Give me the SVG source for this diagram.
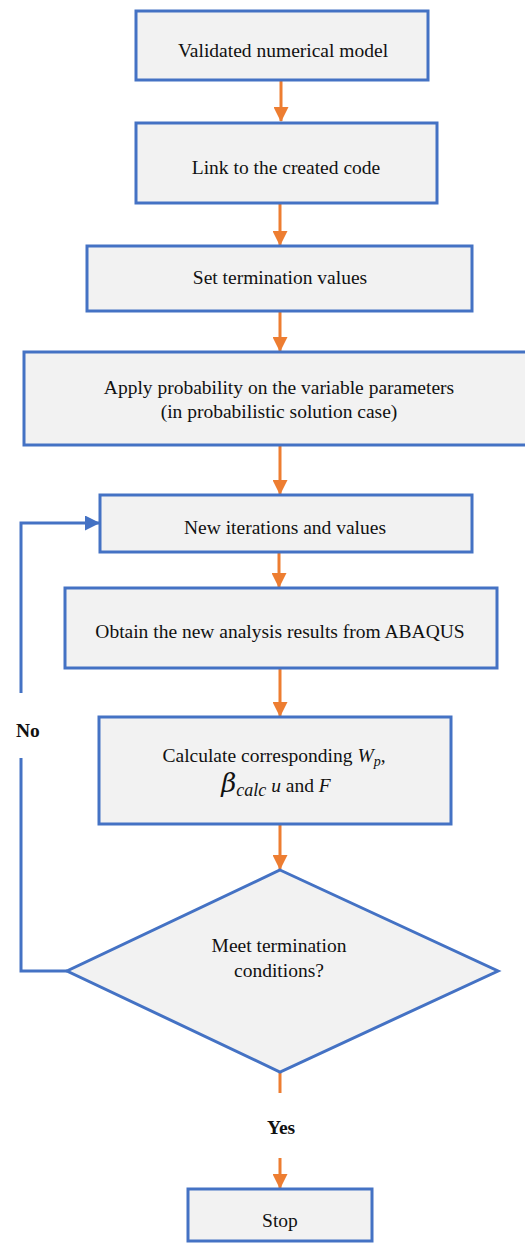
<svg xmlns="http://www.w3.org/2000/svg" width="525" height="1243" viewBox="0 0 525 1243">
<defs>
<style>
.box{fill:#F2F2F2;stroke:#4472C4;stroke-width:3}
.t{font-family:"Liberation Serif","Times New Roman",serif;font-size:19.5px;fill:#111;text-anchor:middle}
.lbl{font-family:"Liberation Serif","Times New Roman",serif;font-size:19.5px;font-weight:bold;fill:#111}
.oa{stroke:#ED7D31;stroke-width:3;fill:none}
.ba{stroke:#4472C4;stroke-width:3;fill:none}
</style>
<marker id="ao" markerUnits="userSpaceOnUse" markerWidth="15" markerHeight="15" refX="14" refY="7.5" orient="auto" viewBox="0 0 15 15"><path d="M0,0 L15,7.5 L0,15 z" fill="#ED7D31"/></marker>
<marker id="ab" markerUnits="userSpaceOnUse" markerWidth="15" markerHeight="15" refX="14" refY="7.5" orient="auto" viewBox="0 0 15 15"><path d="M0,0 L15,7.5 L0,15 z" fill="#4472C4"/></marker>
</defs>
<g id="connectors">
<line class="oa" x1="281" y1="81" x2="281" y2="121" marker-end="url(#ao)"/>
<line class="oa" x1="280" y1="204" x2="280" y2="245" marker-end="url(#ao)"/>
<line class="oa" x1="280" y1="312" x2="280" y2="351" marker-end="url(#ao)"/>
<line class="oa" x1="280" y1="446" x2="280" y2="494" marker-end="url(#ao)"/>
<line class="oa" x1="279" y1="553" x2="279" y2="587" marker-end="url(#ao)"/>
<line class="oa" x1="280" y1="669" x2="280" y2="716" marker-end="url(#ao)"/>
<line class="oa" x1="280" y1="825" x2="280" y2="869" marker-end="url(#ao)"/>
<line class="oa" x1="280" y1="1072" x2="280" y2="1093"/>
<line class="oa" x1="280" y1="1158" x2="280" y2="1188" marker-end="url(#ao)"/>
<polyline class="ba" points="67,971 21,971 21,758"/>
<polyline class="ba" points="21,693 21,523 99,523" marker-end="url(#ab)"/>
<text class="lbl" x="16" y="737">No</text>
<text class="lbl" x="267" y="1134">Yes</text>
</g>
<g id="n1"><rect class="box" x="136" y="11" width="292" height="69"/><text class="t" x="283" y="57">Validated numerical model</text></g>
<g id="n2"><rect class="box" x="136" y="123" width="301" height="80"/><text class="t" x="286" y="174">Link to the created code</text></g>
<g id="n3"><rect class="box" x="87" y="246" width="385" height="65"/><text class="t" x="280" y="284">Set termination values</text></g>
<g id="n4"><rect class="box" x="24" y="352" width="503" height="93"/><text class="t" x="279" y="394">Apply probability on the variable parameters</text><text class="t" x="279" y="418">(in probabilistic solution case)</text></g>
<g id="n5"><rect class="box" x="100" y="495" width="372" height="57"/><text class="t" x="285" y="534">New iterations and values</text></g>
<g id="n6"><rect class="box" x="65" y="588" width="432" height="80"/><text class="t" x="280" y="638">Obtain the new analysis results from ABAQUS</text></g>
<g id="n7"><rect class="box" x="99" y="717" width="352" height="107"/>
<text class="t" x="274" y="762">Calculate corresponding <tspan font-style="italic">W</tspan><tspan font-style="italic" font-size="14" dy="4">p</tspan><tspan dy="-4">,</tspan></text>
<text class="t" x="276" y="792"><tspan font-style="italic" font-size="26" font-family="DejaVu Serif,serif">β</tspan><tspan font-style="italic" font-size="18" dy="4">calc</tspan><tspan dy="-4"> </tspan><tspan font-style="italic">u</tspan> and <tspan font-style="italic">F</tspan></text></g>
<g id="n8"><polygon class="box" points="280,870 498,971 280,1072 67,971"/><text class="t" x="279" y="952">Meet termination</text><text class="t" x="279" y="977">conditions?</text></g>
<g id="n9"><rect class="box" x="188" y="1189" width="184" height="52"/><text class="t" x="280" y="1227">Stop</text></g>
</svg>
